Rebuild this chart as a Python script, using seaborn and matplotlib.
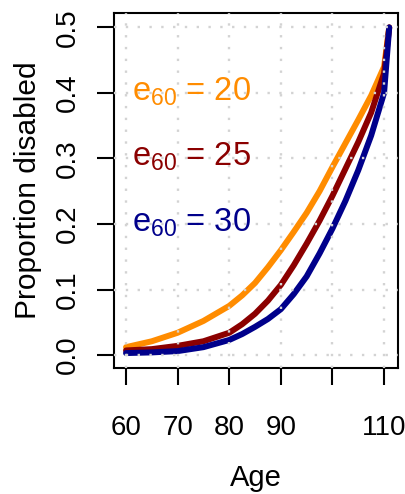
import matplotlib
matplotlib.use("Agg")
import matplotlib.pyplot as plt
import seaborn as sns
import pandas as pd

ages = [60, 65, 70, 75, 80, 82.5, 85, 87.5, 90, 92.5, 95, 97.5, 100, 102.5, 105, 107.5, 110, 111]
e60_20 = [0.012, 0.021, 0.034, 0.052, 0.075, 0.091, 0.110, 0.134, 0.160, 0.188, 0.217, 0.250, 0.287,
          0.323, 0.359, 0.396, 0.440, 0.500]
e60_25 = [0.007, 0.009, 0.014, 0.021, 0.034, 0.047, 0.063, 0.083, 0.107, 0.137, 0.170, 0.205, 0.243,
          0.284, 0.325, 0.370, 0.430, 0.500]
e60_30 = [0.003, 0.004, 0.006, 0.012, 0.023, 0.032, 0.043, 0.055, 0.070, 0.093, 0.120, 0.155, 0.193,
          0.235, 0.282, 0.335, 0.400, 0.500]
series_names = ["20", "25", "30"]
colors = ["#FF8C00", "#8B0000", "#00008B"]
label_y = [0.4, 0.3, 0.2]
x_ticks = [60, 70, 80, 90, 100, 110]
x_ticklabels = ["60", "70", "80", "90", "", "110"]
y_ticks = [0.0, 0.1, 0.2, 0.3, 0.4, 0.5]
y_ticklabels = ["0.0", "0.1", "0.2", "0.3", "0.4", "0.5"]

sns.set_style("white")
plt.rcParams["font.family"] = ["Liberation Sans", "DejaVu Sans"]
plt.rcParams["mathtext.fontset"] = "custom"
plt.rcParams["mathtext.rm"] = "Liberation Sans"
plt.rcParams["text.color"] = "black"
plt.rcParams["axes.labelcolor"] = "black"
plt.rcParams["xtick.color"] = "black"
plt.rcParams["ytick.color"] = "black"

rows = []
for name, vals in zip(series_names, [e60_20, e60_25, e60_30]):
    for a, v in zip(ages, vals):
        rows.append({"Age": a, "Proportion": v, "e60": name})
df = pd.DataFrame(rows)

W, H = 406, 494
fig = plt.figure(figsize=(W / 100, H / 100), dpi=100)
L, R, T, B = 114, 398, 13, 368
ax = fig.add_axes([L / W, 1 - B / H, (R - L) / W, (B - T) / H])

sns.lineplot(data=df, x="Age", y="Proportion", hue="e60", hue_order=series_names,
             palette=colors, linewidth=4.3, ax=ax, legend=False, sort=False,
             solid_capstyle="round", solid_joinstyle="round", zorder=2)

ax.set_xlim(57.67, 112.7)
ax.set_ylim(-0.0198, 0.522)

ax.set_axisbelow(False)
ax.grid(True, color="#D3D3D3", linestyle=(0, (1, 4)), linewidth=1.7)

for sp in ax.spines.values():
    sp.set_color("black")
    sp.set_linewidth(1.5)
    sp.set_visible(True)

ax.set_xticks(x_ticks)
ax.set_xticklabels(x_ticklabels, fontsize=20)
ax.set_yticks(y_ticks)
ax.set_yticklabels(y_ticklabels, fontsize=20, rotation=90, va="center")
ax.tick_params(axis="x", length=12.5, width=1.5, pad=21, direction="out", bottom=True)
ax.tick_params(axis="y", length=12.5, width=1.5, pad=11, direction="out", left=True)

ax.set_xlabel("Age", fontsize=21, va="center")
ax.xaxis.set_label_coords(0.5, (B - 478) / (B - T))
ax.set_ylabel("Proportion disabled", fontsize=21.5, va="center")
ax.yaxis.set_label_coords((28 - L) / (R - L), 0.5)

for name, c, yv in zip(series_names, colors, label_y):
    ax.text(61.15, yv - 0.011, r"$\mathregular{e_{60}}$ = " + name, color=c,
            fontsize=23.5, ha="left", va="baseline", zorder=3)

fig.savefig("out.png", dpi=100)
